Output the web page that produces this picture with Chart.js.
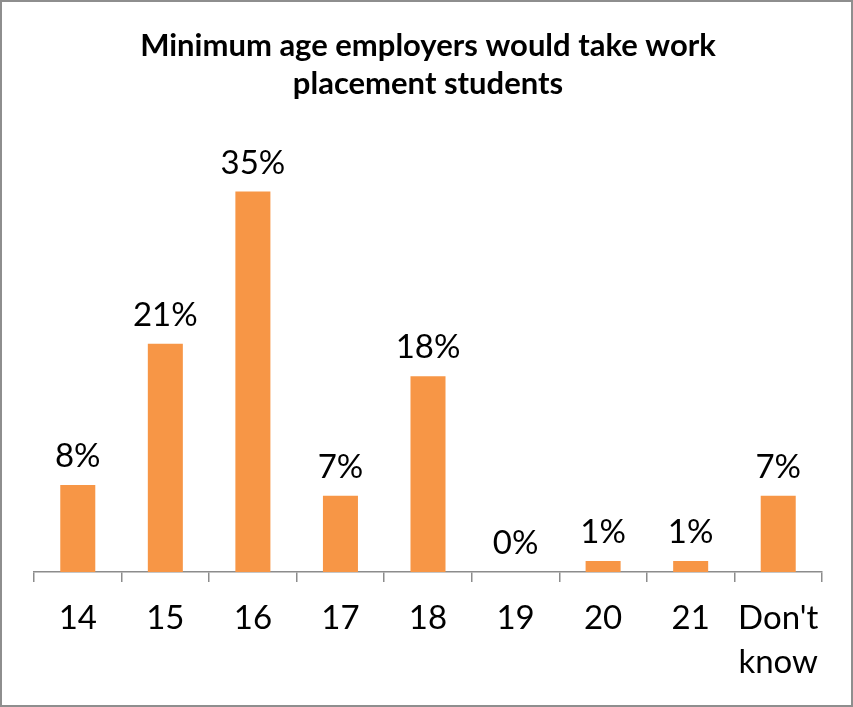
<!DOCTYPE html>
<html>
<head>
<meta charset="utf-8">
<script src="https://cdn.jsdelivr.net/npm/chart.js@4/dist/chart.umd.min.js"></script>
<style>
  html, body { margin: 0; padding: 0; background: #fff; }
  #frame {
    position: absolute; left: 0; top: 0;
    width: 849px; height: 703px;
    border: 2px solid #8e8e8e;
    background: #fff;
  }
  #wrap { position: absolute; left: -2px; top: -2px; width: 853px; height: 707px; }
</style>
</head>
<body>
<div id="frame"><div id="wrap"><canvas id="c" width="853" height="707"></canvas></div></div>
<script>
// Minimum age categories and share of employers (fraction)
const ageCategories = ["14", "15", "16", "17", "18", "19", "20", "21", ["Don't", "know"]];
const shareValues = [0.08, 0.21, 0.35, 0.07, 0.18, 0.00, 0.01, 0.01, 0.07];
const chartTitle = ["Minimum age employers would take work", "placement students"];

const FONT = "Lato, 'Open Sans', sans-serif";

// Draws the percentage above each bar, positioned from the bar element itself
const valueLabels = {
  id: 'valueLabels',
  afterDatasetsDraw(chart) {
    const ctx = chart.ctx;
    const meta = chart.getDatasetMeta(0);
    ctx.save();
    ctx.font = "33px " + FONT;
    ctx.fillStyle = "#000";
    ctx.textAlign = "center";
    ctx.textBaseline = "alphabetic";
    meta.data.forEach((bar, i) => {
      const v = shareValues[i];
      ctx.fillText(Math.round(v * 100) + "%", bar.x, bar.y - 18);
    });
    ctx.restore();
  }
};

new Chart(document.getElementById('c'), {
  type: 'bar',
  data: {
    labels: ageCategories,
    datasets: [{
      data: shareValues,
      backgroundColor: '#F79646',
      borderWidth: 0,
      categoryPercentage: 1.0,
      barPercentage: 0.4
    }]
  },
  options: {
    responsive: false,
    animation: false,
    layout: { padding: { left: 34, right: 31, top: 14, bottom: 8 } },
    plugins: {
      legend: { display: false },
      tooltip: { enabled: false },
      title: {
        display: true,
        text: chartTitle,
        color: '#000',
        font: { family: FONT, size: 31, weight: 'bold', lineHeight: 1.23 },
        padding: { top: 13, bottom: 34 }
      }
    },
    scales: {
      x: {
        grid: {
          offset: true,
          drawOnChartArea: false,
          drawTicks: true,
          tickLength: 10,
          color: '#8c8c8c',
          lineWidth: 1.5
        },
        border: { display: true, color: '#8c8c8c', width: 1.5 },
        ticks: {
          color: '#000',
          font: { family: FONT, size: 33, lineHeight: 1.32 },
          padding: 15,
          maxRotation: 0,
          autoSkip: false
        }
      },
      y: {
        display: false,
        min: 0,
        max: 0.40
      }
    }
  },
  plugins: [valueLabels]
});
</script>
</body>
</html>
